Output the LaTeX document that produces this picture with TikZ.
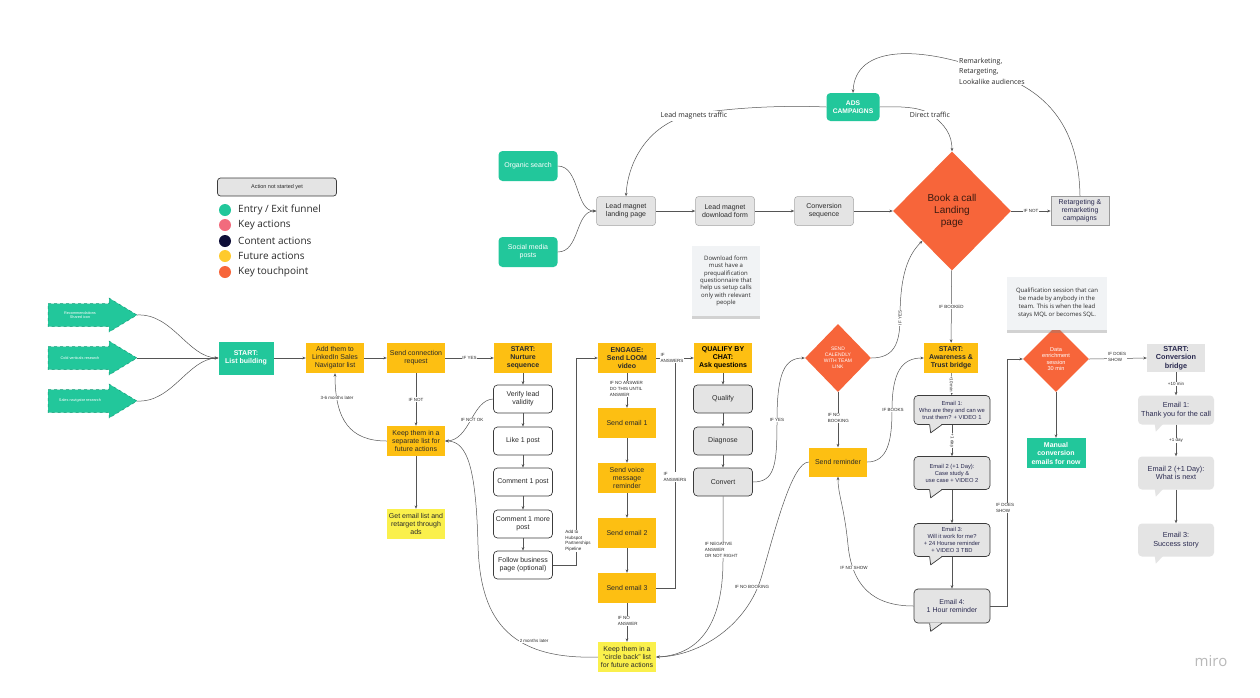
\documentclass[tikz,border=0pt]{standalone}
\usepackage{fontspec}
\setmainfont{Liberation Sans}
\newfontfamily\osans{Open Sans}
\usetikzlibrary{shapes.geometric,arrows.meta,shadows,calc}
\definecolor{grn}{HTML}{22C79B}
\definecolor{grnd}{HTML}{139A76}
\definecolor{ylw}{HTML}{FDBF12}
\definecolor{lyl}{HTML}{FAF04C}
\definecolor{org}{HTML}{F7653A}
\definecolor{gry}{HTML}{E4E4E4}
\definecolor{lnc}{HTML}{555555}
\definecolor{bdr}{HTML}{3C3C3C}
\definecolor{navy}{HTML}{2A2A50}
\definecolor{pnk}{HTML}{F26B7D}
\definecolor{dnv}{HTML}{0E0E38}
\definecolor{txt}{HTML}{2A2A2A}
\definecolor{notebg}{HTML}{F1F3F5}
\definecolor{lylg}{HTML}{FFCA2C}
\definecolor{bktxt}{HTML}{3A1A10}
\newcommand{\btail}[1]{%
  \fill[gry] ([xshift=16pt,yshift=0.8pt]#1.south west) -- ([xshift=17pt,yshift=-8pt]#1.south west) -- ([xshift=28pt,yshift=0.8pt]#1.south west) -- cycle;
  \draw[bdr,line width=0.7pt,line join=round] ([xshift=16pt]#1.south west) -- ([xshift=17pt,yshift=-8pt]#1.south west) -- ([xshift=28pt]#1.south west);}
\newcommand{\ctail}[1]{%
  \fill[gry] ([xshift=17pt,yshift=0.5pt]#1.south west) -- ([xshift=18pt,yshift=-7pt]#1.south west) -- ([xshift=25pt,yshift=0.5pt]#1.south west) -- cycle;}
\tikzset{
 base/.style={align=center, inner sep=1pt, text=txt, font=\fontsize{7}{8}\selectfont},
 ybox/.style={base, fill=ylw, minimum width=58pt, minimum height=30pt},
 yboxb/.style={ybox, font=\bfseries\fontsize{7}{8}\selectfont},
 lybox/.style={base, fill=lyl, minimum width=58pt, minimum height=30pt},
 gbox/.style={base, fill=grn, text=white, font=\bfseries\fontsize{7}{8.5}\selectfont, minimum width=55pt, minimum height=33pt},
 wbox/.style={base, fill=white, draw=bdr, line width=0.7pt, rounded corners=4pt, minimum width=59pt, minimum height=28pt},
 qbox/.style={wbox, fill=gry},
 lmbox/.style={base, fill=gry, draw=gray!70, line width=0.5pt, rounded corners=3pt, minimum width=59pt, minimum height=29pt},
 bub/.style={base, fill=gry, draw=bdr, line width=0.7pt, rounded corners=4pt, minimum width=76pt, minimum height=29pt, font=\fontsize{5.8}{7}\selectfont, text=navy},
 cbub/.style={base, fill=gry, rounded corners=4pt, minimum width=76pt, minimum height=29pt, font=\fontsize{7.3}{8.6}\selectfont, text=navy},
 lbl/.style={fill=white, inner sep=0.6pt, font=\fontsize{4.5}{5.6}\selectfont, text=txt, align=left},
 ln/.style={draw=lnc, line width=0.5pt},
 arr/.style={ln, -{Stealth[length=3.5pt,width=2.8pt]}},
 dia/.style={diamond, aspect=1, fill=org, inner sep=0pt, align=center, text=white},
 note/.style={fill=notebg, align=center, font=\osans\fontsize{6}{7.4}\selectfont, text=txt, drop shadow={opacity=0.35, shadow xshift=0pt, shadow yshift=-3pt}},
 dot/.style={circle, inner sep=0pt, minimum size=12pt},
 leg/.style={anchor=west, font=\osans\fontsize{10}{12}\selectfont, text=txt, inner sep=0pt},
 gr/.style={base, fill=grn, text=white, rounded corners=4pt, minimum width=59pt, minimum height=30pt},
 arrtxt/.style={text=white, font=\fontsize{3.8}{4.6}\selectfont, align=center, inner sep=0pt},
 toplbl/.style={fill=white, inner sep=1pt, font=\osans\fontsize{7}{10.5}\selectfont, text=txt, align=left},
}
\begin{document}
\begin{tikzpicture}[x=1pt,y=-1pt]
\useasboundingbox (0,0) rectangle (1260,697);
\fill[white] (0,0) rectangle (1260,697);

% ---------- legend ----------
\node[draw=bdr, fill=gry, rounded corners=3pt, line width=0.7pt, minimum width=119pt, minimum height=18pt, font=\fontsize{5.5}{6}\selectfont, text=txt] (legbox) at (277,187) {Action not started yet};
\node[dot, fill=grn] (d1) at (225,210) {};
\node[dot, fill=pnk] (d2) at (225,225) {};
\node[dot, fill=dnv] (d3) at (225,241) {};
\node[dot, fill=lylg] (d4) at (225,256) {};
\node[dot, fill=org] (d5) at (225,272) {};
\node[leg] (l1) at (238,210) {Entry / Exit funnel};
\node[leg] (l2) at (238,225) {Key actions};
\node[leg] (l3) at (238,241) {Content actions};
\node[leg] (l4) at (238,256) {Future actions};
\node[leg] (l5) at (238,272) {Key touchpoint};

% ---------- left arrows ----------
\foreach \c in {315,358,401}{
  \draw[fill=grn, draw=grnd, dashed, line width=0.5pt] (48,\c-11.5) -- (109,\c-11.5) -- (109,\c-17) -- (137,\c) -- (109,\c+17) -- (109,\c+11.5) -- (48,\c+11.5) -- cycle;
}
\node[arrtxt] (a1) at (80,315) {Recommendations\\Shared icon};
\node[arrtxt] (a2) at (80,358) {Cold verticals research};
\node[arrtxt] (a3) at (80,401) {Sales navigator research};
\coordinate (t1) at (137,315);
\coordinate (t2) at (137,358);
\coordinate (t3) at (137,401);

% ---------- main nodes ----------
\node[gbox] (start) at (246,358) {START:\\List building};
\node[ybox] (add) at (335,358) {Add them to\\LinkedIn Sales\\Navigator list};
\node[ybox] (conn) at (416,358) {Send connection\\request};
\node[ybox] (keepsep) at (416,441) {Keep them in a\\separate list for\\future actions};
\node[lybox] (getemail) at (416,524) {Get email list and\\retarget through\\ads};
\node[yboxb] (nurt) at (523,358) {START:\\Nurture\\sequence};
\node[wbox] (verify) at (523,399) {Verify lead\\validity};
\node[wbox] (like) at (523,441) {Like 1 post};
\node[wbox] (com1) at (523,482) {Comment 1 post};
\node[wbox] (com2) at (523,524) {Comment 1 more\\post};
\node[wbox] (follow) at (523,565) {Follow business\\page (optional)};
\node[yboxb] (engage) at (627,358) {ENGAGE:\\Send LOOM\\video};
\node[ybox] (em1) at (627,423) {Send email 1};
\node[ybox] (voice) at (627,478) {Send voice\\message\\reminder};
\node[ybox] (em2) at (627,533) {Send email 2};
\node[ybox] (em3) at (627,588) {Send email 3};
\node[lybox] (circ) at (627,657) {Keep them in a\\"circle back" list\\for future actions};
\node[yboxb, text=black] (qual) at (723,358) {QUALIFY BY\\CHAT:\\Ask questions};
\node[qbox] (qq) at (723,399) {Qualify};
\node[qbox] (diag) at (723,441) {Diagnose};
\node[qbox] (conv) at (723,482) {Convert};
\node[dia, minimum width=66pt, minimum height=68pt, font=\fontsize{5}{6}\selectfont] (cal) at (838,358) {SEND\\CALENDLY\\WITH TEAM\\LINK};
\node[ybox, minimum height=29pt] (rem) at (838,462) {Send reminder};
\node[yboxb, minimum width=54pt] (aw) at (951,358) {START:\\Awareness \&\\Trust bridge};
\node[bub] (e1) at (952,410) {Email 1:\\Who are they and can we\\trust them? + VIDEO 1};
\node[bub, minimum height=33pt] (e2) at (952,473) {Email 2 (+1 Day):\\Case study \&\\use case + VIDEO 2};
\node[bub, minimum height=33pt] (e3) at (952,540) {Email 3:\\Will it work for me?\\+ 24 Hourse reminder\\+ VIDEO 3 TBD};
\node[bub, minimum height=34pt, font=\fontsize{7}{8.4}\selectfont] (e4) at (952,606) {Email 4:\\1 Hour reminder};
\btail{e1}\btail{e2}\btail{e3}\btail{e4}

% ---------- top area ----------
\node[dia, minimum width=118pt, minimum height=119pt, text=bktxt, font=\fontsize{10}{12}\selectfont] (book) at (952,211) {Book a call\\Landing\\page};
\node[base, fill=gry, draw=gray!80, line width=0.6pt, minimum width=58pt, minimum height=29pt, text=navy] (ret) at (1080,211) {Retargeting \&\\remarketing\\campaigns};
\node[lmbox] (lml) at (626,211) {Lead magnet\\landing page};
\node[lmbox] (lmf) at (725,211) {Lead magnet\\download form};
\node[lmbox] (cseq) at (824,211) {Conversion\\sequence};
\node[gr] (orgs) at (528,166) {Organic search};
\node[gr] (soc) at (528,252) {Social media\\posts};
\node[gr, minimum width=53pt, minimum height=28pt, font=\bfseries\fontsize{6.7}{8}\selectfont] (ads) at (853,107) {ADS\\CAMPAIGNS};
\node[note, minimum width=68pt, minimum height=70pt] (dlnote) at (726,281) {Download form\\must have a\\prequalification\\questionnaire that\\help us setup calls\\only with relevant\\people};

% ---------- right area ----------
\node[dia, minimum width=66pt, minimum height=66pt, font=\fontsize{5.6}{6.6}\selectfont] (data) at (1056,359) {Data\\enrichment\\session\\30 min};
\node[note, minimum width=100pt, minimum height=53pt, font=\osans\fontsize{6}{8}\selectfont] (qnote) at (1057,303) {Qualification session that can\\be made by anybody in the\\team. This is when the lead\\stays MQL or becomes SQL.};
\node[gbox, minimum width=59pt, minimum height=30pt] (manual) at (1056,453) {Manual\\conversion\\emails for now};
\node[base, fill=gry, minimum width=58pt, minimum height=28pt, text=navy, font=\bfseries\fontsize{7.3}{8.4}\selectfont] (cb) at (1176,358) {START:\\Conversion\\bridge};
\node[cbub] (ce1) at (1176,410) {Email 1:\\Thank you for the call};
\node[cbub, minimum height=33pt] (ce2) at (1176,473) {Email 2 (+1 Day):\\What is next};
\node[cbub, minimum height=33pt] (ce3) at (1176,540) {Email 3:\\Success story};
\ctail{ce1}\ctail{ce2}\ctail{ce3}
\node[text=gray!55, font=\osans\fontsize{15}{16}\selectfont] (miro) at (1211,661) {miro};

% ---------- connectors ----------
\draw[arr] (t1) .. controls (172,313) and (188,357) .. (start.west);
\draw[arr] (t2) -- (start.west);
\draw[arr] (t3) .. controls (172,403) and (188,359) .. (start.west);
\draw[arr] (start) -- (add);
\draw[arr] (add) -- (conn);
\draw[arr] (conn) -- node[lbl]{IF YES} (nurt);
\draw[arr] (conn) -- node[lbl]{IF NOT} (keepsep);
\draw[arr] (keepsep.west) .. controls (350,441) and (335,420) .. (add.south);
\node[lbl] (l36) at (337,398) {3-6 months later};
\draw[arr] (keepsep) -- (getemail);
\draw[arr] (nurt) -- (verify);
\draw[arr] (verify) -- (like);
\draw[arr] (like) -- (com1);
\draw[arr] (com1) -- (com2);
\draw[arr] (com2) -- (follow);
\draw[arr] (verify.west) .. controls (472,400) and (470,440) .. (keepsep.east);
\node[lbl] (lnok) at (472,420) {IF NOT OK};
\draw[arr] (circ.west) .. controls (505,660) and (480,615) .. (478,545) .. controls (476,470) and (468,441) .. (keepsep.east);
\node[lbl] (l2m) at (534,641) {2 months later};
\draw[arr] (follow.east) -| ([xshift=-22pt]engage.west) -- (engage.west);
\node[lbl] (lhub) at (578,541) {Add to\\Hubspot\\Partnerships\\Pipeline};
\coordinate (mrg) at (675,358);
\draw[arr] (engage) -- (qual);
\draw[ln] (em3.east) -| (mrg);
\node[lbl] (lans1) at (672,358) {IF\\ANSWERS};
\node[lbl] (lans2) at (675,477) {IF\\ANSWERS};
\draw[arr] (engage) -- (em1);
\node[lbl, anchor=west] (lnoans) at (609,389) {IF NO ANSWER\\DO THIS UNTIL\\ANSWER};
\draw[arr] (em1) -- (voice);
\draw[arr] (voice) -- (em2);
\draw[arr] (em2) -- (em3);
\draw[arr] (em3) -- (circ);
\node[lbl, anchor=west] (lnoans2) at (617,621) {IF NO\\ANSWER};
\draw[arr] (qual) -- (qq);
\draw[arr] (qq) -- (diag);
\draw[arr] (diag) -- (conv);
\draw[arr] (conv.south) -- (723,560) .. controls (723,630) and (695,655) .. (circ.east);
\node[lbl, anchor=west] (lneg) at (704,550) {IF NEGATIVE\\ANSWER\\OR NOT RIGHT};
\draw[arr] (rem.west) .. controls (792,462) and (775,530) .. (762,575) .. controls (748,625) and (700,656) .. (circ.east);
\node[lbl] (lnob) at (752,587) {IF NO BOOKING};
\draw[arr] (conv.east) .. controls (775,482) and (777,465) .. (777,420) .. controls (777,372) and (785,358) .. (cal.west);
\node[lbl] (lyes1) at (777,420) {IF YES};
\draw[arr] (cal.east) .. controls (893,358) and (900,345) .. (900,318) .. controls (900,275) and (908,255) .. (book.south west);
\node[lbl, rotate=90] (lyes2) at (900,318) {IF YES};
\draw[arr] (cal) -- (rem);
\node[lbl, anchor=west] (lnob2) at (827,418) {IF NO\\BOOKING};
\draw[arr] (rem.east) .. controls (888,462) and (892,440) .. (892,410) .. controls (892,372) and (902,358) .. (aw.west);
\node[lbl] (lbooks) at (893,410) {IF BOOKS};
\draw[arr] (e4.west) .. controls (872,606) and (852,585) .. (848,545) .. controls (844,505) and (838,495) .. (rem.south);
\node[lbl] (lnoshow) at (854,568) {IF NO SHOW};
\draw[arr] (book) -- node[lbl]{IF BOOKED} (aw);
\draw[arr] (aw) -- node[lbl, rotate=-90]{+10 min} (e1);
\draw[arr] (e1) -- node[lbl, rotate=-90]{+1 day} (e2);
\draw[arr] (e2) -- (e3);
\draw[arr] (e3) -- (e4);
\draw[arr] (e4.east) -| ([xshift=-16pt]data.west) -- (data.west);
\node[lbl] (lds1) at (1005,508) {IF DOES\\SHOW};
\draw[arr] (book) -- node[lbl]{IF NOT} (ret);
\draw[arr] (data) -- (manual);
\draw[arr] (data.east) -- (cb.west);
\node[lbl] (lds2) at (1117,357) {IF DOES\\SHOW};
\draw[arr] (cb) -- node[lbl]{+10 min} (ce1);
\draw[arr] (ce1) -- node[lbl]{+1 day} (ce2);
\draw[arr] (ce2) -- (ce3);
\draw[arr] (orgs.east) .. controls (580,166) and (575,211) .. (lml.west);
\draw[arr] (soc.east) .. controls (580,252) and (575,211) .. (lml.west);
\draw[arr] (lml) -- (lmf);
\draw[arr] (lmf) -- (cseq);
\draw[arr] (cseq) -- (book);
\draw[arr] (ads.west) .. controls (780,105) and (730,108) .. (694,114) .. controls (650,122) and (628,160) .. (lml.north);
\node[toplbl] (llm) at (694,116) {Lead magnets traffic};
\draw[arr] (ads.east) .. controls (905,106) and (922,108) .. (930,114) .. controls (945,124) and (952,135) .. (book.north);
\node[toplbl] (ldt) at (930,115) {Direct traffic};
\draw[arr] (ret.north) .. controls (1079,130) and (1050,90) .. (990,72) .. controls (920,45) and (855,45) .. (ads.north);
\node[toplbl, anchor=west] (lrm) at (958,71) {Remarketing,\\Retargeting,\\Lookalike audiences};
\end{tikzpicture}
\end{document}
